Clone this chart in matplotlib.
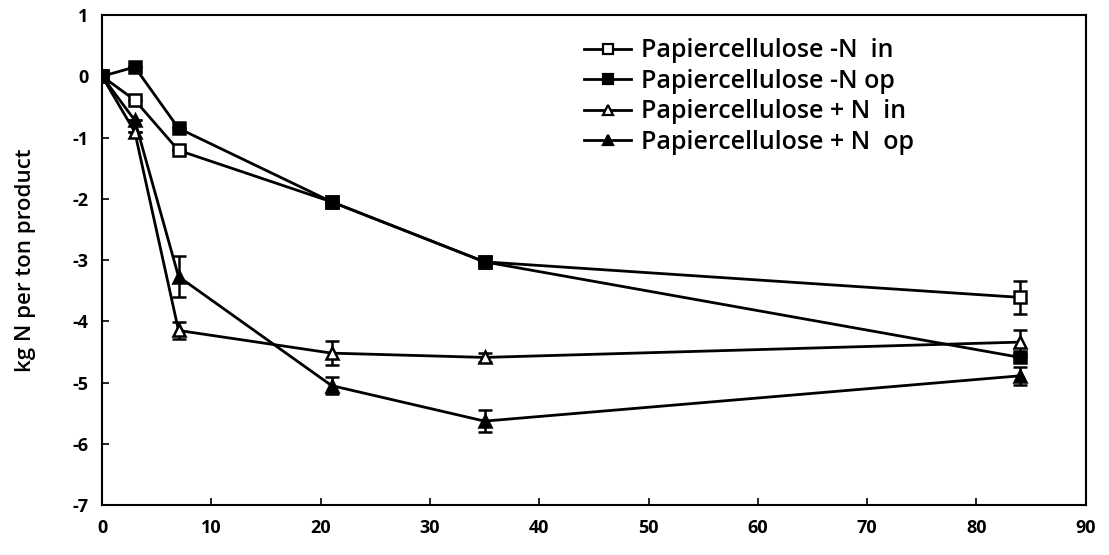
import matplotlib
matplotlib.use("Agg")
import matplotlib.pyplot as plt
from matplotlib.lines import Line2D

plt.rcParams['font.family'] = ['Open Sans', 'DejaVu Sans']
plt.rcParams['axes.unicode_minus'] = False

days = [0, 3, 7, 21, 35, 84]

labels = [
    "Papiercellulose -N  in",
    "Papiercellulose -N op",
    "Papiercellulose + N  in",
    "Papiercellulose + N  op",
]
min_n_in = [0, -0.39, -1.21, -2.05, -3.03, -3.61]
min_n_op = [0, 0.15, -0.85, -2.05, -3.03, -4.59]
plus_n_in = [0, -0.91, -4.15, -4.52, -4.59, -4.34]
plus_n_op = [0, -0.72, -3.27, -5.05, -5.63, -4.89]

err_min_n_in = [0, 0, 0, 0, 0, 0.27]
err_min_n_op = [0, 0, 0, 0, 0, 0]
err_plus_n_in = [0, 0, 0.14, 0.2, 0.07, 0.2]
err_plus_n_op = [0, 0, 0.34, 0.14, 0.18, 0.15]

series = [
    (min_n_in, err_min_n_in, 's', 'white'),
    (min_n_op, err_min_n_op, 's', 'black'),
    (plus_n_in, err_plus_n_in, '^', 'white'),
    (plus_n_op, err_plus_n_op, '^', 'black'),
]

fig = plt.figure(figsize=(11.09, 5.55), dpi=100)
ax = fig.add_axes([0.092, 0.090, 0.887, 0.883])

handles = []
for (vals, errs, marker, face), label in zip(series, labels):
    ax.errorbar(days, vals, yerr=errs, color='black', lw=2.0,
                marker=marker, markersize=9, markerfacecolor=face,
                markeredgecolor='black', markeredgewidth=1.8,
                ecolor='black', elinewidth=1.8, capsize=5, capthick=1.8)
    handles.append(Line2D([], [], color='black', lw=2.0, marker=marker,
                          markersize=7.5, markerfacecolor=face,
                          markeredgecolor='black', markeredgewidth=1.6,
                          label=label))

ax.set_xlim(0, 90)
ax.set_ylim(-7, 1)
ax.set_xticks(range(0, 91, 10))
ax.set_yticks(range(-7, 2))
ax.tick_params(direction='in', length=5, width=1.2, labelsize=13, pad=10)
for lab in ax.get_xticklabels() + ax.get_yticklabels():
    lab.set_fontweight('bold')
for sp in ax.spines.values():
    sp.set_linewidth(1.5)

ax.set_ylabel("kg N per ton product", fontsize=16, fontweight='semibold',
              labelpad=26)

ax.legend(handles=handles, loc='upper left', bbox_to_anchor=(0.467, 0.998),
          frameon=False, handlelength=1.9, handletextpad=0.4,
          labelspacing=0.22, prop={'size': 18, 'weight': 'semibold'})

fig.savefig("out.png", dpi=100)
